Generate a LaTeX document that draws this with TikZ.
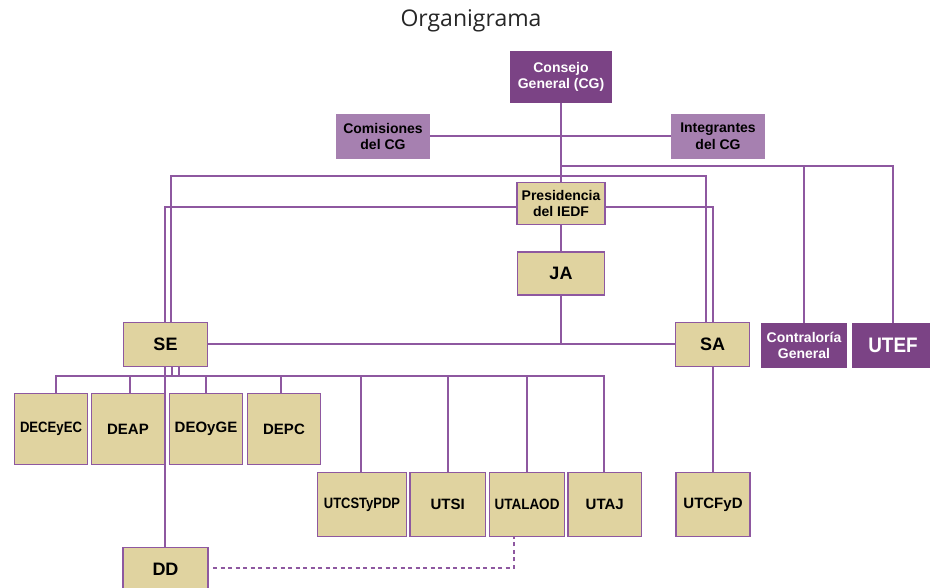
\documentclass[tikz,border=0pt]{standalone}
\usepackage{fontspec}
\usepackage{graphicx}
\setmainfont{Liberation Sans}
\newfontfamily\titlefont{Open Sans}
\usetikzlibrary{calc}
\pgfdeclarelayer{bg}
\pgfsetlayers{bg,main}
\definecolor{ln}{HTML}{8E58A0}
\definecolor{beige}{HTML}{E0D3A0}
\definecolor{dpurp}{HTML}{7B4385}
\definecolor{lpurp}{HTML}{A680B0}
\begin{document}
\begin{tikzpicture}[x=1pt,y=-1pt,
  conn/.style={draw=ln, line width=2pt},
  dashconn/.style={draw=ln, line width=1.6pt, dash pattern=on 4pt off 3.5pt},
  bbox/.style={rectangle, draw=ln, line width=1.8pt, fill=beige, inner sep=0pt, align=center, text=black,
    font=\bfseries\fontsize{15}{17}\selectfont},
  bigbox/.style={bbox, font=\bfseries\fontsize{18}{20}\selectfont},
  twobox/.style={bbox, font=\bfseries\fontsize{14}{16.5}\selectfont},
  dbox/.style={rectangle, fill=dpurp, inner sep=0pt, align=center, text=white,
    font=\bfseries\fontsize{14}{16.5}\selectfont},
  lbox/.style={rectangle, fill=lpurp, inner sep=0pt, align=center, text=black,
    font=\bfseries\fontsize{14}{16.5}\selectfont},
  title/.style={font=\titlefont\fontsize{23}{27}\selectfont, text=black!85, anchor=base}
]
\path[use as bounding box] (0,0) rectangle (930,588);

\node[title] (ttl) at (471,27) {Organigrama};

% top
\node[dbox, minimum width=102, minimum height=52] (cg) at (561,77) {Consejo\\General (CG)};
\node[lbox, minimum width=94, minimum height=45] (com) at (383,136.5) {Comisiones\\del CG};
\node[lbox, minimum width=94, minimum height=45] (integ) at (718,136.5) {Integrantes\\del CG};
\node[twobox, minimum width=88, minimum height=42] (pres) at (561,203.5) {Presidencia\\del IEDF};
\node[bigbox, minimum width=87, minimum height=43] (ja) at (561,273.5) {JA};

% middle row
\node[bigbox, minimum width=84, minimum height=44] (se) at (165.5,344.5) {SE};
\node[bigbox, minimum width=74, minimum height=44] (sa) at (712.5,344.5) {SA};
\node[dbox, minimum width=86, minimum height=45] (contra) at (804,345.5) {Contraloría\\General};
\node[dbox, minimum width=82, minimum height=45, font=\bfseries\fontsize{21}{23}\selectfont] (utef) at (893,345.5) {\scalebox{0.9}[1]{UTEF}};

% SE directions
\node[bbox, minimum width=73, minimum height=71] (deceyec) at (51,429) {\scalebox{0.875}[1]{DECEyEC}};
\node[bbox, minimum width=73, minimum height=71] (deap) at (128,429) {DEAP};
\node[bbox, minimum width=73, minimum height=71] (deoyge) at (206,429) {DEOyGE};
\node[bbox, minimum width=73, minimum height=71] (depc) at (284,429) {DEPC};

% units
\node[bbox, minimum width=89, minimum height=64] (utcs) at (362,504.5) {\scalebox{0.865}[1]{UTCSTyPDP}};
\node[bbox, minimum width=75.5, minimum height=64] (utsi) at (447.75,504.5) {UTSI};
\node[bbox, minimum width=75, minimum height=64] (utalaod) at (527,504.5) {\scalebox{0.9}[1]{UTALAOD}};
\node[bbox, minimum width=73.5, minimum height=64] (utaj) at (604.75,504.5) {UTAJ};
\node[bbox, minimum width=74, minimum height=64] (utcfyd) at (713,504.5) {UTCFyD};

\node[bigbox, minimum width=85.5, minimum height=44] (dd) at (165.5,569.5) {DD};

\begin{pgfonlayer}{bg}
  % CG spine
  \draw[conn] (cg.south) -- (pres.north);
  \coordinate (h0) at (561,136);
  \draw[conn] (com.east |- h0) -- (integ.west |- h0);
  % right branch to Contraloria and UTEF
  \coordinate (r0) at (561,166);
  \draw[conn] (r0) -| (utef.north);
  \draw[conn] (r0 -| contra.north) -- (contra.north);
  % CG line to SE and SA (y=176)
  \coordinate (a1) at (171,176);
  \coordinate (a2) at (706,176);
  \draw[conn] (a1 |- se.north) -- (a1) -- (a2) -- (a2 |- sa.north);
  % Presidencia line (y=207)
  \coordinate (sx) at (165,207);
  \coordinate (ax) at (713,207);
  \draw[conn] (pres.west |- sx) -- (sx) -- (sx |- dd.north);
  \draw[conn] (pres.east |- ax) -- (ax) -- (ax |- utcfyd.north);
  % JA
  \draw[conn] (pres.south) -- (ja.north);
  \coordinate (jx) at (561,344);
  \draw[conn] (ja.south) -- (jx);
  \draw[conn] (se.east |- jx) -- (sa.west |- jx);
  % bus below SE
  \coordinate (v1) at (172,376);
  \coordinate (v2) at (179,376);
  \draw[conn] (v1 |- se.south) -- (v1);
  \draw[conn] (v2 |- se.south) -- (v2);
  \coordinate (b1) at (56,376);
  \coordinate (b2) at (604,376);
  \draw[conn] (b1 |- deceyec.north) -- (b1) -- (b2) -- (b2 |- utaj.north);
  \coordinate (b3) at (130,376);
  \coordinate (b4) at (206,376);
  \coordinate (b5) at (281,376);
  \coordinate (b6) at (361,376);
  \coordinate (b7) at (448,376);
  \coordinate (b8) at (527,376);
  \draw[conn] (b3) -- (b3 |- deap.north);
  \draw[conn] (b4) -- (b4 |- deoyge.north);
  \draw[conn] (b5) -- (b5 |- depc.north);
  \draw[conn] (b6) -- (b6 |- utcs.north);
  \draw[conn] (b7) -- (b7 |- utsi.north);
  \draw[conn] (b8) -- (b8 |- utalaod.north);
  % dashed DD - UTALAOD
  \coordinate (dj) at (514,568);
  \draw[dashconn] ([xshift=4pt]dd.east |- dj) -- (dj) -- (dj |- utalaod.south);
\end{pgfonlayer}
\end{tikzpicture}
\end{document}
